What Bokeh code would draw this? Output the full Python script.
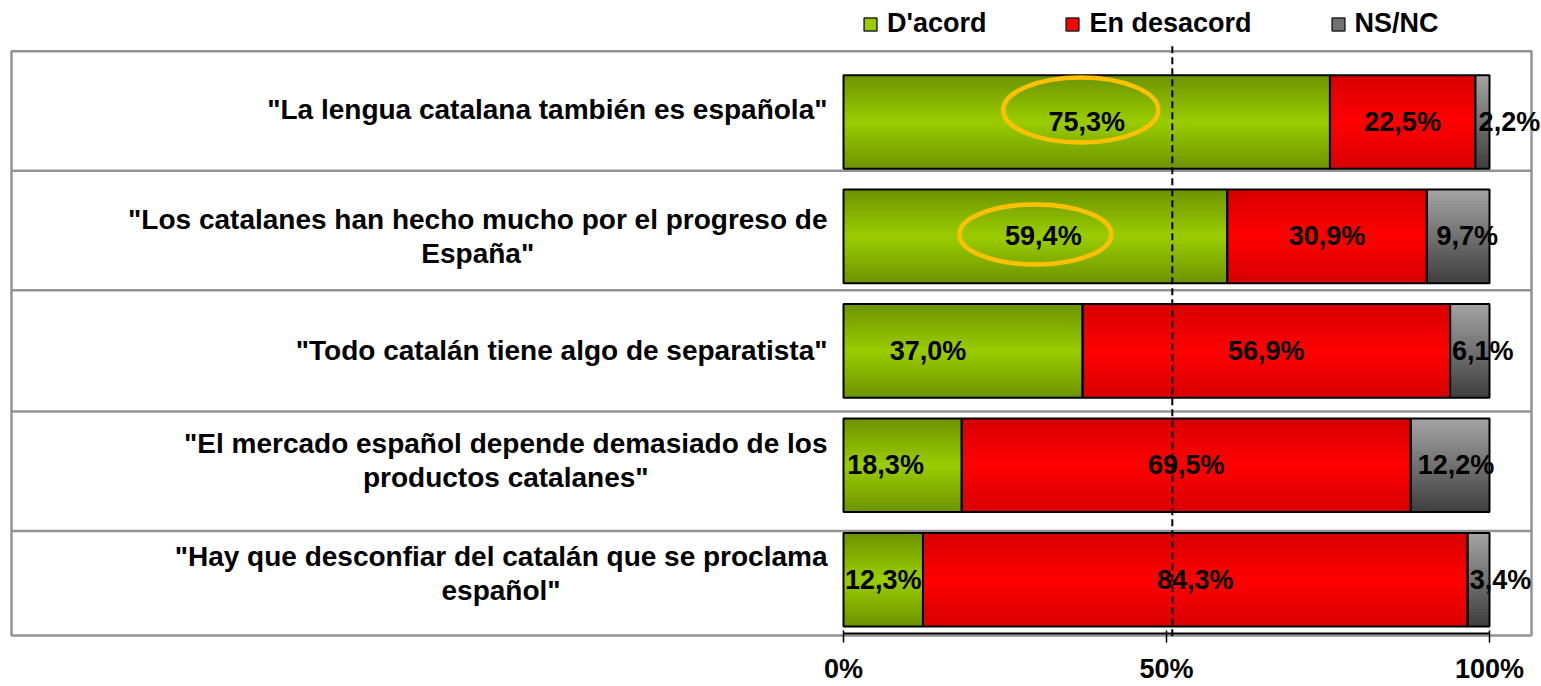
import numpy as np
from bokeh.plotting import figure
from bokeh.models import ColumnDataSource, Range1d, FixedTicker, Legend, LegendItem
from bokeh.core.properties import value
from bokeh.embed import file_html
from bokeh.resources import INLINE

# ---------------- data ----------------
statements = [
    '"La lengua catalana también es española"',
    '"Los catalanes han hecho mucho por el progreso de\nEspaña"',
    '"Todo catalán tiene algo de separatista"',
    '"El mercado español depende demasiado de los\nproductos catalanes"',
    '"Hay que desconfiar del catalán que se proclama\nespañol"',
]
agree = [75.3, 59.4, 37.0, 18.3, 12.3]
disagree = [22.5, 30.9, 56.9, 69.5, 84.3]
nsnc = [2.2, 9.7, 6.1, 12.2, 3.4]
series_names = ["D'acord", "En desacord", "NS/NC"]
x_ticks = [0, 50, 100]
x_tick_labels = ["0%", "50%", "100%"]
highlight_rows = [0, 1]
reference_line = 50.9

# ---------------- layout / style ----------------
W, H = 1541, 686
FH = 641                   # frame bottom (canvas px)
BOTTOM = H - FH
PX = 6.46                  # px per percent
X0 = 843                   # canvas x of 0 %
ROW = 115                  # px per category
Y0 = 122                   # canvas y of first row centre
BAR_H = 94 / ROW
FONT = "Liberation Sans"

def cx(px):
    return (px - X0) / PX

def cy(px):
    return (px - Y0) / ROW

p = figure(width=W, height=H, output_backend="svg", toolbar_location=None,
           x_range=Range1d(cx(0), cx(W)), y_range=Range1d(cy(FH), cy(0)),
           y_axis_location=None, min_border_left=0, min_border_right=0,
           min_border_top=0, min_border_bottom=BOTTOM)
p.outline_line_color = None
p.grid.visible = False
p.background_fill_color = "white"
p.border_fill_color = "white"

# ---------------- table frame ----------------
GRID_C = "#939393"
p.quad(left=[cx(11)], right=[cx(1531)], top=[cy(51)], bottom=[cy(638)],
       fill_color=None, line_color=GRID_C, line_width=2.5)
sep_px = [171, 291, 413, 533]
p.segment(x0=[cx(11)] * 4, x1=[cx(1531)] * 4, y0=[cy(s) for s in sep_px],
          y1=[cy(s) for s in sep_px], line_color=GRID_C, line_width=2.5)

# ---------------- bars with gradient strips ----------------
def hexc(rgb):
    return "#%02x%02x%02x" % tuple(int(round(c)) for c in rgb)

grad = [
    ((0x9A, 0xCD, 0x00), (0x6C, 0x94, 0x00), "mirror"),
    ((0xFF, 0x00, 0x00), (0xD8, 0x00, 0x00), "mirror"),
    ((0xA4, 0xA4, 0xA4), (0x3E, 0x3E, 0x3E), "linear"),
]
segs = [np.array(agree), np.array(disagree), np.array(nsnc)]

# legend proxy glyphs: tiny boxes hidden inside each series' segment of the
# first row (drawn first, then fully covered by the gradient bars)
leg_r = []
base = 0.0
for k in range(3):
    c0, c1, mode = grad[k]
    mid = c0 if mode == "mirror" else [(c0[j] + c1[j]) / 2 for j in range(3)]
    centre = base + segs[k][0] / 2
    leg_r.append(p.hbar(y=[0], left=[centre - 0.2], right=[centre + 0.2], height=0.05,
                        fill_color=hexc(mid), line_color="#222222", line_width=1.5))
    base += segs[k][0]

NS = 32
strip = dict(y=[], left=[], right=[], h=[], c=[])
outline = dict(y=[], left=[], right=[])
starts = np.zeros(len(statements))
for k, vals in enumerate(segs):
    c0, c1, mode = grad[k]
    for i in range(len(statements)):
        l, r = starts[i], starts[i] + vals[i]
        for s in range(NS):
            t = (s + 0.5) / NS          # 0 top -> 1 bottom
            if mode == "mirror":
                f = abs(t - 0.5) * 2
                col = [c0[j] + (c1[j] - c0[j]) * f for j in range(3)]
            else:
                col = [c0[j] + (c1[j] - c0[j]) * t for j in range(3)]
            hh = BAR_H / NS
            top = i - BAR_H / 2 + hh * s
            bot = min(top + hh * 2.2, i + BAR_H / 2)
            strip["y"].append((top + bot) / 2)
            strip["left"].append(l)
            strip["right"].append(r)
            strip["h"].append(bot - top)
            strip["c"].append(hexc(col))
        outline["y"].append(i)
        outline["left"].append(l)
        outline["right"].append(r)
    starts = starts + vals

p.hbar(y="y", left="left", right="right", height="h", fill_color="c",
       line_color=None, source=ColumnDataSource(strip))
p.hbar(y="y", left="left", right="right", height=BAR_H, fill_color=None,
       line_color="black", line_width=2, source=ColumnDataSource(outline))

# axis line under bars
p.segment(x0=[0], x1=[100], y0=[cy(636)], y1=[cy(636)], line_color="black", line_width=2)

# ---------------- value labels ----------------
nudge = [[0, 8, -35, -17, 0], [0, 0, 0, 0, 0], [27, 9, 13, 6, 22]]
lab = dict(x=[], y=[], t=[], dx=[])
cum = np.zeros(len(statements))
for k, vals in enumerate(segs):
    for i in range(len(statements)):
        lab["x"].append(cum[i] + vals[i] / 2)
        lab["y"].append(i)
        lab["t"].append(("%.1f%%" % vals[i]).replace(".", ","))
        lab["dx"].append(nudge[k][i])
    cum = cum + vals

# highlight ellipses
ell_dx = [-6, 0]
ell_dy = [-12, -2]
ell_w = [155, 152]
ell_h = [65, 60]
p.ellipse(x=[agree[i] / 2 + ell_dx[n] / PX for n, i in enumerate(highlight_rows)],
          y=[i + ell_dy[n] / ROW for n, i in enumerate(highlight_rows)],
          width=ell_w, height=ell_h, width_units="screen", height_units="screen",
          fill_color=None, line_color="#FFC000", line_width=4.5)

p.text(x="x", y="y", text="t", x_offset="dx", source=ColumnDataSource(lab),
       text_font=value(FONT), text_font_style="bold", text_font_size="27px",
       text_align="center", text_baseline="middle", text_color="black")

# row labels
row_dy = [-12, 0, 0, -5, -6]
p.text(x=[0] * len(statements), y=[i + row_dy[i] / ROW for i in range(len(statements))],
       text=statements, x_offset=-16, anchor=value("center_right"),
       text_font=value(FONT), text_font_style="bold", text_font_size="28px",
       text_align="center", text_baseline="middle", text_line_height=1.1,
       text_color="black")

# dashed reference line
p.line(x=[reference_line, reference_line], y=[cy(46), cy(FH)],
       line_color="black", line_width=2, line_dash="7 4")

# ---------------- x axis ----------------
ax = p.xaxis[0]
ax.ticker = FixedTicker(ticks=x_ticks)
ax.major_label_overrides = {t: l for t, l in zip(x_ticks, x_tick_labels)}
ax.axis_line_color = None
ax.major_tick_line_color = "black"
ax.major_tick_line_width = 1.5
ax.major_tick_in = 8
ax.major_tick_out = 4
ax.minor_tick_line_color = None
ax.major_label_standoff = 11
ax.major_label_text_font = FONT
ax.major_label_text_font_style = "bold"
ax.major_label_text_font_size = "27px"
ax.major_label_text_color = "black"

# ---------------- legend ----------------
legend = Legend(items=[LegendItem(label=series_names[k], renderers=[leg_r[k]]) for k in range(3)],
                orientation="horizontal", location=(862, FH - 42),
                glyph_width=16, glyph_height=16, label_standoff=9, spacing=78,
                padding=0, margin=0, border_line_color=None, background_fill_alpha=0,
                label_text_font=FONT, label_text_font_style="bold",
                label_text_font_size="27px", label_text_color="black")
p.add_layout(legend)

open("out.html", "w").write(file_html(p, INLINE))
